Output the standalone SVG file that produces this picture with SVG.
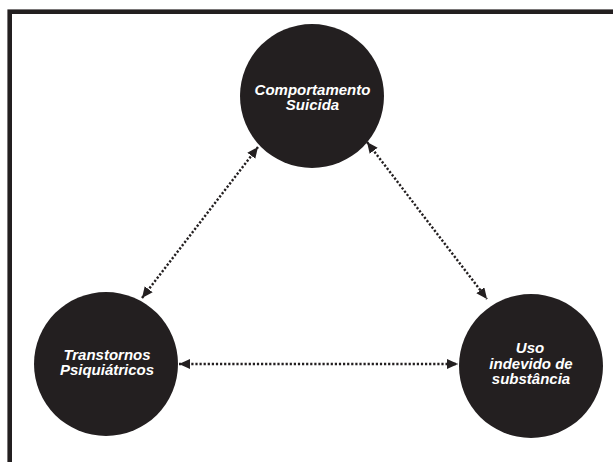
<svg xmlns="http://www.w3.org/2000/svg" width="613" height="462" viewBox="0 0 613 462">
  <style>
    .node circle { fill: #231f20; }
    .node text { fill: #ffffff; font-family: "Liberation Sans", Arial, sans-serif; font-weight: bold; font-style: italic; font-size: 15px; text-anchor: middle; }
    .conn line { stroke: #231f20; stroke-width: 2.4; stroke-dasharray: 2.2 1.9; marker-start: url(#ah); marker-end: url(#ah); }
  </style>
  <defs>
    <marker id="ah" markerUnits="userSpaceOnUse" markerWidth="12" markerHeight="11" refX="11" refY="5" orient="auto-start-reverse">
      <path d="M0,0 L11,5 L0,10 Z" fill="#231f20"/>
    </marker>
  </defs>
  <rect x="0" y="0" width="613" height="462" fill="#ffffff"/>
  <rect id="frame" x="9.7" y="11.7" width="640" height="480" fill="none" stroke="#231f20" stroke-width="4.6"/>
  <g id="connectors" class="conn">
    <line x1="142" y1="298" x2="258" y2="147"/>
    <line x1="367" y1="142" x2="487" y2="299"/>
    <line x1="179" y1="364" x2="458" y2="364"/>
  </g>
  <g id="comportamento-suicida" class="node">
    <circle cx="312" cy="96" r="72"/>
    <text x="312.5" y="94.5">Comportamento</text>
    <text x="312.5" y="110">Suicida</text>
  </g>
  <g id="transtornos-psiquiatricos" class="node">
    <circle cx="106" cy="364" r="72"/>
    <text x="107" y="359.5">Transtornos</text>
    <text x="107" y="375">Psiquiátricos</text>
  </g>
  <g id="uso-indevido" class="node">
    <circle cx="531" cy="366" r="72"/>
    <text x="530" y="353">Uso</text>
    <text x="531" y="368.5">indevido de</text>
    <text x="531" y="384">substância</text>
  </g>
</svg>
